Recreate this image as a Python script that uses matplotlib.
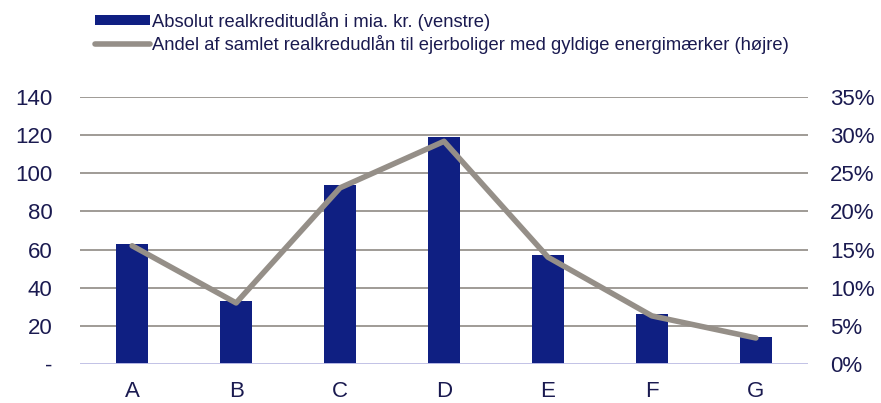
import numpy as np
import matplotlib.pyplot as plt
from matplotlib.ticker import FuncFormatter

plt.rcParams['font.family'] = ['Liberation Sans', 'DejaVu Sans']

# === DATA ===
categories = ["A", "B", "C", "D", "E", "F", "G"]
loans_bn = [63, 33, 94, 119, 57, 26, 14]
share_pct = [15.5, 8.0, 23.1, 29.2, 14.0, 6.3, 3.4]

bar_label = "Absolut realkreditudlån i mia. kr. (venstre)"
line_label = "Andel af samlet realkredudlån til ejerboliger med gyldige energimærker (højre)"

bar_color = "#0f1f82"
line_color = "#958f88"
grid_color = "#8f8a84"
text_color = "#1a1a50"

fig = plt.figure(figsize=(8.81, 4.03), dpi=100)
ax = fig.add_axes([0.091, 0.097, 0.826, 0.662])
ax2 = ax.twinx()

x = np.arange(len(categories))
bars = ax.bar(x, loans_bn, width=0.31, color=bar_color, zorder=3, label=bar_label)
line, = ax2.plot(x, share_pct, color=line_color, lw=4, solid_capstyle='round',
                 zorder=4, label=line_label)

ax.set_xlim(-0.5, len(categories) - 0.5)
ax.set_ylim(0, 140)
ax.set_yticks(np.arange(0, 141, 20))
ax.yaxis.set_major_formatter(FuncFormatter(lambda v, p: "-" if v == 0 else f"{v:g}"))
ax2.set_ylim(0, 35)
ax2.set_yticks(np.arange(0, 36, 5))
ax2.yaxis.set_major_formatter(FuncFormatter(lambda v, p: f"{v:g}%"))

ax.set_xticks(x)
ax.set_xticklabels(categories)

for a in (ax, ax2):
    for s in a.spines.values():
        s.set_visible(False)
    a.tick_params(length=0, labelsize=16, labelcolor=text_color)
ax.tick_params(axis='y', pad=20)
ax.tick_params(axis='x', pad=12)
ax2.tick_params(axis='y', pad=16)

ax.yaxis.grid(True, color=grid_color, lw=1.2, zorder=0)
ax.set_axisbelow(True)
ax.axhline(0, color="#c8c8f0", lw=2, zorder=5)

# line axis on top of bars
ax2.set_zorder(ax.get_zorder() + 1)
ax2.patch.set_visible(False)

leg = fig.legend([bars, line], [bar_label, line_label], loc='upper left',
                 bbox_to_anchor=(0.094, 1.0), frameon=False, fontsize=13.2,
                 handlelength=3.0, handleheight=0.45, handletextpad=0.15,
                 labelspacing=0.22, borderaxespad=0.25)
for t in leg.get_texts():
    t.set_color(text_color)

fig.savefig("out.png", dpi=100)
